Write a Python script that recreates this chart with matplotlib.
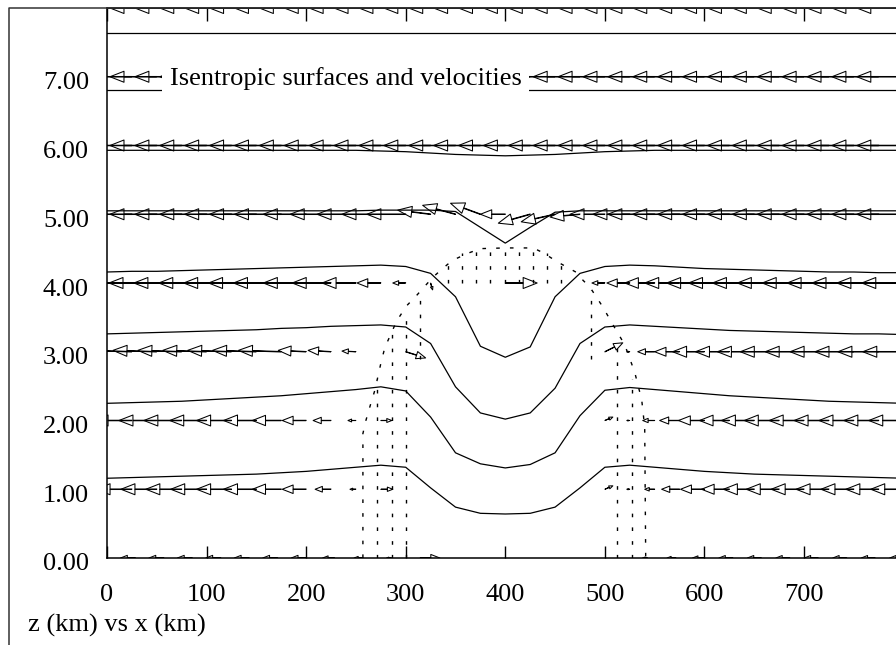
import numpy as np
import matplotlib.pyplot as plt
from matplotlib.lines import Line2D
from matplotlib.transforms import ScaledTranslation

plt.rcParams['font.family'] = ['Liberation Serif', 'DejaVu Serif']

# grid columns (km) where the isentropes and velocities are stored
x_grid = np.arange(0, 801, 25)
x_surf = np.arange(29) * 800 / 28
z_rows = [1, 2, 3, 4, 5, 6, 7, 8]

# isentropic surfaces: height (km) at each grid column
theta_1 = [1.16, 1.17, 1.18, 1.19, 1.20, 1.21, 1.22, 1.24, 1.26, 1.29, 1.32, 1.35, 1.32,
           1.02, 0.74, 0.65, 0.64, 0.65, 0.74, 1.02,
           1.32, 1.35, 1.32, 1.29, 1.26, 1.24, 1.22, 1.21, 1.20, 1.19, 1.18, 1.17, 1.16]
theta_2 = [2.25, 2.26, 2.27, 2.28, 2.30, 2.32, 2.34, 2.36, 2.39, 2.42, 2.45, 2.49, 2.43,
           2.05, 1.53, 1.37, 1.31, 1.36, 1.53, 2.07,
           2.44, 2.48, 2.45, 2.42, 2.39, 2.36, 2.34, 2.32, 2.30, 2.28, 2.27, 2.26, 2.25]
theta_3 = [3.26, 3.27, 3.28, 3.29, 3.30, 3.31, 3.32, 3.34, 3.35, 3.37, 3.38, 3.39, 3.36,
           3.12, 2.49, 2.11, 2.02, 2.11, 2.47, 3.12,
           3.36, 3.39, 3.37, 3.35, 3.33, 3.31, 3.30, 3.29, 3.28, 3.27, 3.26, 3.26, 3.25]
theta_4 = [4.16, 4.17, 4.17, 4.18, 4.19, 4.20, 4.21, 4.22, 4.23, 4.24, 4.25, 4.26, 4.24,
           4.14, 3.80, 3.08, 2.92, 3.07, 3.80, 4.14,
           4.24, 4.26, 4.25, 4.23, 4.21, 4.20, 4.19, 4.18, 4.17, 4.16, 4.16, 4.15, 4.15]
theta_5 = [5.05, 5.05, 5.05, 5.05, 5.05, 5.05, 5.05, 5.05, 5.05, 5.05, 5.05, 5.06, 5.06,
           5.06, 5.04, 4.81, 4.58, 4.81, 5.03,
           5.05, 5.05, 5.05, 5.05, 5.05, 5.05, 5.05, 5.05, 5.05, 5.05, 5.05, 5.05, 5.05, 5.05]
theta_6 = [5.93, 5.93, 5.93, 5.93, 5.93, 5.93, 5.93, 5.93, 5.93, 5.93, 5.93, 5.92, 5.91,
           5.89, 5.87, 5.86, 5.85, 5.86, 5.87, 5.89,
           5.91, 5.92, 5.93, 5.93, 5.93, 5.93, 5.93, 5.93, 5.93, 5.93, 5.93, 5.93, 5.93]
theta_7 = [6.81, 6.81, 6.81, 6.81, 6.81, 6.81, 6.81, 6.81, 6.81, 6.81, 6.81, 6.81, 6.81,
           6.81, 6.81, 6.81, 6.81, 6.81, 6.81, 6.81,
           6.81, 6.81, 6.81, 6.81, 6.81, 6.81, 6.81, 6.81, 6.81, 6.81, 6.81, 6.81, 6.81]
theta_8 = [7.64, 7.64, 7.64, 7.64, 7.64, 7.64, 7.64, 7.64, 7.64, 7.64, 7.64, 7.64, 7.64,
           7.64, 7.64, 7.64, 7.64, 7.64, 7.64, 7.64,
           7.64, 7.64, 7.64, 7.64, 7.64, 7.64, 7.64, 7.64, 7.64, 7.64, 7.64, 7.64, 7.64]
isentropes = [theta_1, theta_2, theta_3, theta_4, theta_5, theta_6, theta_7, theta_8]

# surface winds (km) on the finer surface grid
u_surf = [-15, -15, -15, -15, -15, -15, -15, -15, -12, -9, -5, 20, 0, 0,
          0, 0, 0, 0, 0, -5, -9, -12, -14, -14, -14, -14, -14, -14, -14]

# velocity displacement per row: u in km, w in km of height
u_1 = [-36, -36, -36, -36, -36, -35, -33, -29, -24, -16, -6, 12, 0,
       0, 0, 0, 0, 0, 0, 0,
       8, -3, -10, -18, -24, -28, -31, -33, -33, -33, -33, -33, -33]
u_2 = [-38, -38, -38, -38, -37, -35, -33, -29, -24, -18, -8, 11, 0,
       0, 0, 0, 0, 0, 0, 0,
       8, -3, -12, -20, -26, -30, -33, -35, -35, -35, -35, -35, -35]
u_3 = [-44, -44, -44, -44, -44, -44, -44, -43, -28, -23, -14, 0, 20,
       0, 0, 0, 0, 0, 0, 0,
       18, -3, -17, -25, -32, -34, -37, -39, -39, -39, -39, -41, -41]
u_4 = [-48, -48, -48, -48, -48, -48, -48, -48, -43, -39, -34, -24, -13,
       2, 0, 0, 32, 0, 0, 0,
       -13, -23, -30, -35, -38, -41, -42, -42, -42, -42, -42, -42, -42]
u_5 = [-47, -47, -47, -47, -47, -47, -47, -47, -43, -41, -39, -39, -39,
       -33, -33, -30, -25, -32, -34, -30,
       -35, -37, -47, -47, -47, -47, -47, -47, -47, -47, -47, -47, -47]
u_6 = [-47] * 33
u_7 = [-47] * 33
u_8 = [-47] * 33
w_2 = [0] * 20 + [0.05] + [0] * 12
w_1 = [0] * 20 + [0.05] + [0] * 12
w_3 = [0.02, 0.02, 0.02, 0.02, 0.02, 0.02, 0.02, 0.02, 0.02, 0.02, 0.01, 0.0, -0.09,
       0, 0, 0, 0, 0, 0, 0,
       0.13, 0, 0, 0, 0, 0, 0, 0, 0, 0, 0, 0, 0]
w_4 = [0] * 13 + [-0.10, 0, 0, 0, 0, 0, 0] + [0] * 13
w_5 = [0] * 13 + [0.06, 0.13, 0.16, 0.0, -0.13, -0.11, -0.04] + [0] * 13
u_rows = [u_1, u_2, u_3, u_4, u_5, u_6, u_7, u_8]
w_rows = [w_1, w_2, w_3, w_4, w_5, [0] * 33, [0] * 33, [0] * 33]

# dotted cloud outline and columns (x km, z km)
arch_x = [257, 257, 260, 265, 269, 275, 279, 291, 301, 311, 327, 337, 347, 362, 375, 400,
          428, 438, 452, 462, 472, 478, 485, 498, 507, 520, 530, 537, 540, 541]
arch_z = [0.0, 1.81, 2.0, 2.25, 2.44, 2.83, 3.06, 3.45, 3.67, 3.82, 4.08, 4.21, 4.33, 4.43,
          4.50, 4.51, 4.51, 4.44, 4.31, 4.23, 4.15, 4.04, 3.94, 3.65, 3.42, 3.1, 2.7, 2.3,
          1.9, 0.0]
col_x = [271, 286, 300, 314, 342, 357, 371, 385, 400, 414, 428, 442, 456, 486, 512, 527]
col_bottom = [0.0, 0.0, 0.0, 2.9, 4.0, 4.0, 4.0, 4.0, 4.0, 4.0, 4.0, 4.0, 4.0, 2.9, 0.0, 0.0]
col_top = [2.6, 3.3, 3.6, 3.85, 4.32, 4.43, 4.48, 4.5, 4.51, 4.5, 4.5, 4.44, 4.31, 3.9, 3.2,
           2.6]

fig = plt.figure(figsize=(8.96, 6.45), dpi=100)
ax = fig.add_axes([107 / 896, 87 / 645, 796.6 / 896, 550 / 645])

for th in isentropes:
    ax.plot(x_grid, th, color='black', lw=0.9, zorder=2)

dots = (0, (2.6, 7.3))
ax.plot(arch_x, arch_z, color='black', lw=1.0, ls=dots, zorder=2)
for cx, zb, zt in zip(col_x, col_bottom, col_top):
    ax.plot([cx, cx], [zb, zt], color='black', lw=1.0, ls=dots, zorder=2)

# velocity arrows with open heads; short arrows get smaller heads
X, Z, U, W = [], [], [], []
for xi, ui in zip(x_surf, u_surf):
    if ui != 0:
        X.append(xi)
        Z.append(0)
        U.append(ui)
        W.append(0)
for zr, ur, wr in zip(z_rows, u_rows, w_rows):
    for xi, ui, wi in zip(x_grid, ur, wr):
        if ui != 0 or wi != 0:
            X.append(xi)
            Z.append(zr)
            U.append(ui)
            W.append(wi)
ax.quiver(X, Z, U, W, angles='xy', scale_units='xy', scale=1, units='dots',
          width=0.5, headwidth=22, headlength=28, headaxislength=28,
          minshaft=2.2, minlength=0, facecolor='none', edgecolor='black',
          linewidth=0.75, zorder=3)

ax.text(63, 6.88, 'Isentropic surfaces and velocities', fontsize=19,
        ha='left', va='baseline', zorder=6,
        bbox=dict(boxstyle='square,pad=0.28', fc='white', ec='none'))

ax.set_xlim(0, 800)
ax.set_ylim(0, 8)
ax.set_xticks([0, 100, 200, 300, 400, 500, 600, 700])
ax.set_yticks([0, 1, 2, 3, 4, 5, 6, 7])
ax.set_yticklabels(['%.2f' % v for v in [0, 1, 2, 3, 4, 5, 6, 7]])
ax.tick_params(axis='x', direction='in', length=9, width=1, top=True, labelsize=19, pad=19)
ax.tick_params(axis='y', length=0, labelsize=19, pad=13)
shift = ScaledTranslation(0, -4 / 100, fig.dpi_scale_trans)
for lab in ax.get_yticklabels():
    lab.set_transform(lab.get_transform() + shift)
for sp in ax.spines.values():
    sp.set_linewidth(1.1)

# outer frame around the plot
fig.add_artist(Line2D([9 / 896, 9 / 896, 1.0], [0.0, 1 - 8 / 645, 1 - 8 / 645],
                      transform=fig.transFigure, color='#333333', lw=1.1))

fig.text(28 / 896, 13 / 645, 'z (km) vs x (km)', fontsize=19, va='baseline')

fig.savefig('out.png', dpi=100)
